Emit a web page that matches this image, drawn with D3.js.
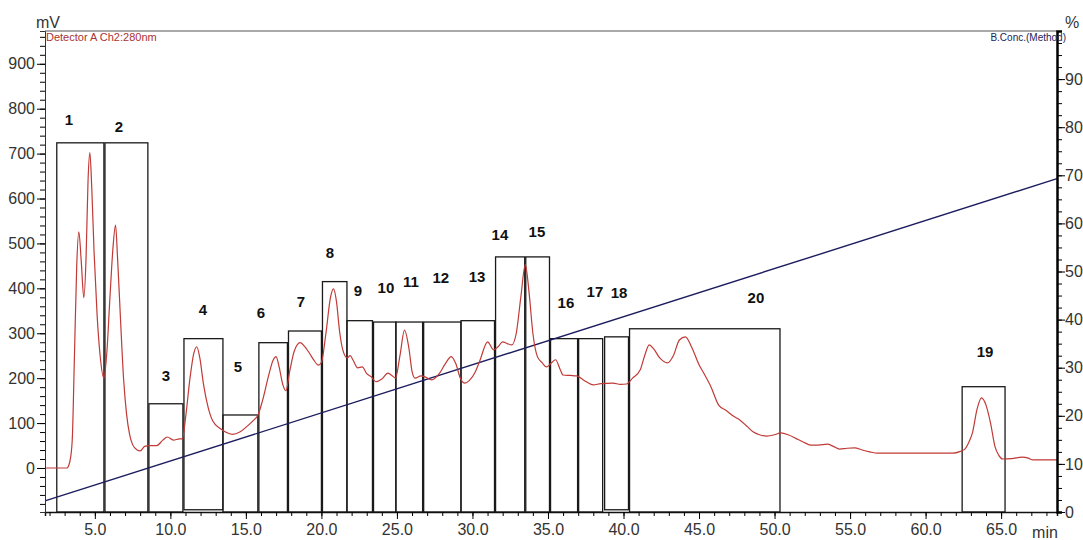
<!DOCTYPE html>
<html>
<head>
<meta charset="utf-8">
<script src="https://cdn.jsdelivr.net/npm/d3@7"></script>
<style>
  body { margin: 0; background: #fff; }
  svg { display: block; font-family: Arial, "Liberation Sans", sans-serif; }
</style>
</head>
<body>
<div id="chart"></div>
<script>
// chromatogram: detector trace (mV), B conc gradient (%), fraction boxes

// 1. data
var traceTime = [1.7, 3.15, 3.35, 3.5, 3.65, 3.8, 3.94, 4.1, 4.27, 4.42, 4.55, 4.67, 4.8, 4.95, 5.15, 5.35, 5.6, 5.8, 6.0, 6.2,
  6.37, 6.5, 6.7, 6.9, 7.1, 7.3, 7.5, 7.8, 8.0, 8.3, 8.6, 9.1, 9.5, 9.8, 10.2, 10.6, 10.8, 11.0, 11.3, 11.55,
  11.75, 11.95, 12.2, 12.5, 12.8, 13.3, 13.8, 14.1, 14.6, 15.05, 15.5, 15.8, 16.1, 16.5, 16.8, 17.0, 17.2, 17.45, 17.65, 17.9,
  18.2, 18.6, 18.9, 19.2, 19.5, 19.8, 20.0, 20.3, 20.6, 20.8, 21.0, 21.2, 21.4, 21.7, 21.9, 22.1, 22.4, 22.7, 23.0, 23.3,
  23.6, 24.0, 24.4, 24.7, 24.9, 25.2, 25.5, 25.8, 26.0, 26.2, 26.6, 26.85, 27.3, 27.8, 28.2, 28.6, 28.9, 29.2, 29.5, 29.8,
  30.2, 30.5, 31.0, 31.4, 31.7, 32.0, 32.3, 32.6, 32.9, 33.2, 33.5, 33.75, 34.0, 34.3, 34.6, 34.9, 35.2, 35.5, 35.8, 36.0,
  36.5, 36.9, 37.4, 38.0, 38.5, 39.3, 39.8, 40.2, 40.6, 41.1, 41.4, 41.7, 42.0, 42.4, 42.9, 43.3, 43.7, 44.1, 44.5, 45.0,
  45.3, 45.8, 46.3, 46.8, 47.3, 47.7, 48.2, 48.6, 49.0, 49.5, 50.0, 50.4, 50.9, 51.4, 51.9, 52.4, 52.9, 53.5, 53.9, 54.3,
  54.8, 55.3, 55.8, 56.3, 56.8, 61.8, 62.3, 62.6, 62.9, 63.1, 63.4, 63.7, 64.0, 64.3, 64.6, 64.85, 65.1, 65.7, 66.4, 66.8,
  67.1, 68.7];
var traceMv = [0, 0, 15, 60, 250, 450, 526, 460, 379, 470, 640, 702, 620, 480, 340, 250, 200, 260, 380, 490,
  541, 470, 330, 200, 120, 75, 52, 40, 38, 48, 50, 50, 62, 69, 62, 65, 65, 110, 200, 255,
  270, 245, 185, 135, 105, 88, 78, 75, 80, 92, 106, 118, 150, 205, 240, 248, 225, 185, 172, 215,
  260, 279, 270, 256, 240, 229, 235, 300, 380, 399, 370, 305, 265, 245, 250, 240, 223, 225, 210, 203,
  192, 198, 211, 205, 200, 250, 307, 265, 215, 200, 205, 203, 196, 210, 232, 248, 232, 200, 189, 195,
  215, 240, 281, 263, 270, 281, 277, 274, 300, 380, 453, 390, 300, 248, 235, 225, 233, 241, 220, 207,
  206, 205, 195, 185, 188, 189, 186, 187, 200, 218, 250, 274, 265, 245, 234, 250, 285, 292, 270, 230,
  212, 180, 140, 128, 115, 107, 92, 80, 74, 71, 74, 78, 74, 66, 58, 51, 51, 53, 48, 42,
  44, 45, 40, 36, 33, 33, 37, 42, 60, 78, 130, 156, 140, 100, 47, 28, 20, 21, 24, 22,
  18, 18];

var gradTime = [1.7, 68.7];
var gradConc = [2.3, 69.3];

var boxNames = ['1', '2', '3', '4', '5', '6', '7', '8', '9', '10', '11', '12', '13', '14', '15', '16', '17', '18', '20', '19'];
var boxStart = [2.48, 5.67, 8.58, 10.9, 13.48, 15.86, 17.82, 20.07, 21.69, 23.45, 24.93, 26.77, 29.24, 31.53, 33.53, 35.17, 37.03, 38.75, 40.4, 62.42];
var boxEnd = [5.6, 8.51, 10.83, 13.48, 15.79, 17.75, 20.0, 21.69, 23.38, 24.93, 26.7, 29.24, 31.46, 33.46, 35.1, 36.96, 38.62, 40.33, 50.36, 65.26];
var boxTop = [724, 724, 143, 288, 118, 279, 305, 415, 328, 325, 325, 325, 328, 470, 470, 288, 288, 292, 310, 181];
var boxBottom = [-98, -98, -98, -93, -98, -98, -98, -98, -98, -98, -98, -98, -98, -98, -98, -98, -98, -93, -98, -98];
var labelTime = [3.28, 6.59, 9.7, 12.15, 14.47, 15.99, 18.64, 20.56, 22.42, 24.27, 25.93, 27.91, 30.3, 31.82, 34.27, 36.19, 38.11, 39.7, 48.77, 63.94];
var labelMv = [776, 760, 205, 352, 225, 346, 370, 479, 395, 401, 415, 424, 426, 519, 526, 368, 392, 390, 379, 259];

var xTicks = [5, 10, 15, 20, 25, 30, 35, 40, 45, 50, 55, 60, 65];
var mvTicks = [0, 100, 200, 300, 400, 500, 600, 700, 800, 900];
var pctTicks = [0, 10, 20, 30, 40, 50, 60, 70, 80, 90];

// 2. svg size and plot frame
var svgWidth = 1083;
var svgHeight = 540;
var plotLeft = 45, plotRight = 1057, plotTop = 31, plotBottom = 512;

var svg = d3.select('#chart').append('svg')
  .attr('width', svgWidth)
  .attr('height', svgHeight);

svg.append('rect').attr('width', svgWidth).attr('height', svgHeight).attr('fill', '#fff');

// 3. scales
var x = d3.scaleLinear().domain([1.7, 68.7]).range([plotLeft, plotRight]);
var yMv = d3.scaleLinear().domain([-98, 973]).range([plotBottom, plotTop]);
var yPct = d3.scaleLinear().domain([0, 100]).range([plotBottom, plotTop]);

// 4. fraction boxes
var boxes = boxNames.map(function(n, i) {
  return {name: n, t0: boxStart[i], t1: boxEnd[i], top: boxTop[i], bot: boxBottom[i], lt: labelTime[i], lv: labelMv[i]};
});

svg.append('g').selectAll('rect')
  .data(boxes)
  .enter()
  .append('rect')
  .attr('x', d => x(d.t0))
  .attr('y', d => yMv(d.top))
  .attr('width', d => x(d.t1) - x(d.t0))
  .attr('height', d => yMv(d.bot) - yMv(d.top))
  .attr('fill', 'none')
  .attr('stroke', '#1a1a1a')
  .attr('stroke-width', 1.3);

// 5. gradient line and trace
var grad = gradTime.map((t, i) => ({t: t, v: gradConc[i]}));
svg.append('path')
  .datum(grad)
  .attr('d', d3.line().x(d => x(d.t)).y(d => yPct(d.v)))
  .attr('fill', 'none')
  .attr('stroke', '#1c1c5e')
  .attr('stroke-width', 1.4);

var trace = traceTime.map((t, i) => ({t: t, v: traceMv[i]}));
svg.append('path')
  .datum(trace)
  .attr('d', d3.line().x(d => x(d.t)).y(d => yMv(d.v)).curve(d3.curveMonotoneX))
  .attr('fill', 'none')
  .attr('stroke', '#c03a36')
  .attr('stroke-width', 1.2);

// 6. box labels
svg.append('g').selectAll('text')
  .data(boxes)
  .enter()
  .append('text')
  .attr('x', d => x(d.lt))
  .attr('y', d => yMv(d.lv))
  .attr('dy', '0.35em')
  .attr('text-anchor', 'middle')
  .attr('font-size', '15px')
  .attr('font-weight', 'bold')
  .attr('fill', '#111')
  .text(d => d.name);

// 7. axes
svg.append('line')
  .attr('x1', plotLeft).attr('x2', plotRight).attr('y1', plotTop).attr('y2', plotTop)
  .attr('stroke', '#555').attr('stroke-width', 1);

var bottomAxis = d3.axisBottom(x)
  .tickValues(d3.range(2, 69, 1))
  .tickSize(4)
  .tickFormat('');
svg.append('g')
  .attr('transform', `translate(0, ${plotBottom})`)
  .call(bottomAxis)
  .call(g => g.select('.domain').attr('stroke', '#111').attr('stroke-width', 1.5));

var bottomMajor = d3.axisBottom(x)
  .tickValues(xTicks)
  .tickSize(7)
  .tickPadding(5)
  .tickFormat(d3.format('.1f'));
svg.append('g')
  .attr('transform', `translate(0, ${plotBottom})`)
  .call(bottomMajor)
  .call(g => g.select('.domain').remove())
  .call(g => g.selectAll('text').attr('font-size', '16px').attr('fill', '#333'));

var leftMinor = d3.axisLeft(yMv)
  .tickValues(d3.range(-80, 961, 20))
  .tickSize(5)
  .tickFormat('');
svg.append('g')
  .attr('transform', `translate(${plotLeft}, 0)`)
  .call(leftMinor)
  .call(g => g.select('.domain').attr('stroke', '#333'));

var leftAxis = d3.axisLeft(yMv)
  .tickValues(mvTicks)
  .tickSize(8)
  .tickPadding(2);
svg.append('g')
  .attr('transform', `translate(${plotLeft}, 0)`)
  .call(leftAxis)
  .call(g => g.select('.domain').remove())
  .call(g => g.selectAll('text').attr('font-size', '16px').attr('fill', '#333'));

var rightMinor = d3.axisRight(yPct)
  .tickValues(d3.range(0, 100, 2.5))
  .tickSize(5)
  .tickFormat('');
svg.append('g')
  .attr('transform', `translate(${plotRight}, 0)`)
  .call(rightMinor)
  .call(g => g.select('.domain').attr('stroke', '#000').attr('stroke-width', 2.5));

var rightAxis = d3.axisRight(yPct)
  .tickValues(pctTicks)
  .tickSize(8)
  .tickPadding(0);
svg.append('g')
  .attr('transform', `translate(${plotRight}, 0)`)
  .call(rightAxis)
  .call(g => g.select('.domain').remove())
  .call(g => g.selectAll('text').attr('font-size', '16px').attr('fill', '#333'));

// 8. unit labels and headers
svg.append('text').attr('x', 48).attr('y', 28).attr('text-anchor', 'middle')
  .attr('font-size', '16px').attr('fill', '#333').text('mV');
svg.append('text').attr('x', 1072).attr('y', 28).attr('text-anchor', 'middle')
  .attr('font-size', '16px').attr('fill', '#333').text('%');
svg.append('text').attr('x', 1045).attr('y', 538).attr('text-anchor', 'middle')
  .attr('font-size', '16px').attr('fill', '#333').text('min');

svg.append('text').attr('x', 46).attr('y', 41)
  .attr('font-size', '11px').attr('fill', '#a83232').text('Detector A Ch2:280nm');
svg.append('text').attr('x', 1066).attr('y', 41).attr('text-anchor', 'end')
  .attr('font-size', '10px').attr('fill', '#23235a').text('B.Conc.(Method)');
</script>
</body>
</html>
